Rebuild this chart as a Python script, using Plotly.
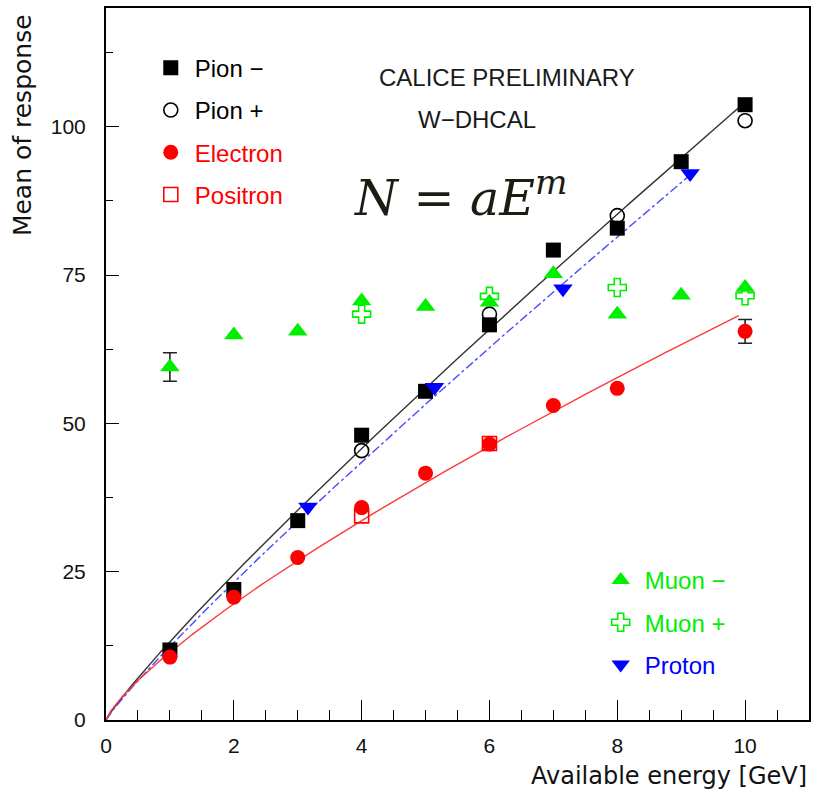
import numpy as np
import plotly.graph_objects as go

# ---- measured responses ----
energy = [1, 2, 3, 4, 5, 6, 7, 8, 9, 10]
pion_minus = [11.8, 22.0, 33.6, 48.0, 55.4, 66.6, 79.2, 82.9, 94.1, 103.7]

pion_plus_e = [4, 6, 8, 10]
pion_plus = [45.4, 68.4, 85.0, 101.0]

electron = [10.6, 20.7, 27.4, 35.8, 41.6, 46.5, 53.0, 55.9, None, 65.5]
electron_err = [0, 0, 0, 0, 0, 0, 0, 0, 0, 2.0]

positron_e = [4, 6]
positron = [34.4, 46.6]

muon_minus = [59.5, 64.9, 65.5, 70.6, 69.7, 70.4, 75.2, 68.4, 71.6, 72.9]
muon_minus_err = [2.4, 0, 0, 0, 0, 0, 0, 0, 0, 0]

muon_plus_e = [4, 6, 8, 10]
muon_plus = [68.4, 71.4, 72.9, 71.5]

proton_e = [3.16, 5.14, 7.15, 9.14]
proton = [35.9, 56.1, 72.7, 92.1]

# ---- power-law fits N = a * E^m : (a, m, upper energy) ----
fit_pion = (13.2, 0.897, 9.9)
fit_electron = (11.4, 0.78, 9.9)
fit_proton = (12.4, 0.905, 9.1)

GREEN = "#00ee00"
RED = "#ff0000"
BLUE = "#0000ff"
TXT = "Liberation Sans"


def fit_curve(a, m, emax):
    e = np.linspace(0.0, emax, 300)
    return e, a * e ** m


def err_points(x, y, err):
    xs = [xi for xi, ei in zip(x, err) if ei > 0]
    ys = [yi for yi, ei in zip(y, err) if ei > 0]
    es = [ei for ei in err if ei > 0]
    return xs, ys, es


fig = go.Figure()

# fit curves
for (a, m, emax), col, dash in [
    (fit_pion, "#333333", "solid"),
    (fit_proton, "#4a4aff", "dashdot"),
    (fit_electron, "#ff3838", "solid"),
]:
    ex, ey = fit_curve(a, m, emax)
    fig.add_trace(go.Scatter(x=ex, y=ey, mode="lines", showlegend=False,
                             line=dict(color=col, width=1.4, dash=dash),
                             hoverinfo="skip"))

# error bars (drawn under the markers)
for x, y, err in [(energy, muon_minus, muon_minus_err), (energy, electron, electron_err)]:
    xs, ys, es = err_points(x, y, err)
    fig.add_trace(go.Scatter(x=xs, y=ys, mode="markers", showlegend=False,
                             marker=dict(size=1, color="rgba(0,0,0,0)"),
                             error_y=dict(type="data", array=es, color="#222222",
                                          thickness=1.6, width=7)))

legend_items = [
    # (x, y, name, symbol, size, color, legend, rank)
    (pion_plus_e, pion_plus, "Pion +", "circle-open", 14, "#000000", "legend", 2),
    (energy, pion_minus, "Pion \u2212", "square", 15, "#000000", "legend", 1),
    (positron_e, positron, f'<span style="color:{RED}">Positron</span>', "square-open", 14, RED, "legend", 4),
    (energy, electron, f'<span style="color:{RED}">Electron</span>', "circle", 15, RED, "legend", 3),
    (muon_plus_e, muon_plus, f'<span style="color:{GREEN}">Muon +</span>', "cross-open", 15, GREEN, "legend2", 6),
    (energy, muon_minus, f'<span style="color:{GREEN}">Muon \u2212</span>', "triangle-up", 17, GREEN, "legend2", 5),
    (proton_e, proton, f'<span style="color:{BLUE}">Proton</span>', "triangle-down", 17, BLUE, "legend2", 7),
]
for x, y, name, sym, size, col, leg, rank in legend_items:
    fig.add_trace(go.Scatter(
        x=x, y=y, mode="markers", name=name, legend=leg, legendrank=rank,
        legendgroup=f"g{rank}",
        marker=dict(symbol=sym, size=size, color=col,
                    line=dict(color=col, width=1.6 if "open" in sym else 0)),
    ))

axis_common = dict(
    showline=True, linecolor="#000000", linewidth=2, mirror=True,
    ticks="inside", tickcolor="#000000", tickwidth=1.3,
    showgrid=False, zeroline=False,
    tickfont=dict(family=TXT, size=21, color="#111111"),
)
fig.update_xaxes(range=[0, 11], tickvals=[0, 2, 4, 6, 8, 10], ticklen=20,
                 minor=dict(dtick=0.5, ticklen=10, ticks="inside", tickcolor="#000000", tickwidth=1.2),
                 ticklabelstandoff=6, **axis_common)
fig.update_yaxes(range=[0, 120], tickvals=[0, 25, 50, 75, 100], ticklen=13,
                 minor=dict(dtick=12.5, ticklen=7, ticks="inside", tickcolor="#000000", tickwidth=1.2),
                 ticklabelstandoff=14, **axis_common)

legend_common = dict(
    font=dict(family=TXT, size=24, color="#000000"),
    bgcolor="rgba(0,0,0,0)", borderwidth=0, itemwidth=38,
    tracegroupgap=8, traceorder="grouped", itemsizing="trace",
)
fig.update_layout(
    width=815, height=791,
    margin=dict(l=106, r=4, t=8, b=71),
    paper_bgcolor="#ffffff", plot_bgcolor="#ffffff",
    legend=dict(x=0.058, y=0.947, xanchor="left", yanchor="top", **legend_common),
    legend2=dict(x=0.698, y=0.2275, xanchor="left", yanchor="top", **legend_common),
    annotations=[
        dict(text="CALICE PRELIMINARY", x=0.570, y=0.903, xref="paper", yref="paper",
             xanchor="center", yanchor="middle",
             showarrow=False, font=dict(family=TXT, size=24, color="#1a1a1a")),
        dict(text="W\u2212DHCAL", x=0.528, y=0.843, xref="paper", yref="paper",
             xanchor="center", yanchor="middle",
             showarrow=False, font=dict(family=TXT, size=24, color="#1a1a1a")),
        dict(text="<i>N</i> = <i>aE</i><sup><i>m</i></sup>", x=0.505, y=0.738,
             xref="paper", yref="paper", xanchor="center", yanchor="middle", showarrow=False,
             font=dict(family="DejaVu Serif", size=49, color="#1c1c12")),
        dict(text="Mean of response", x=-0.119, y=0.836, xref="paper", yref="paper",
             xanchor="center", yanchor="middle",
             textangle=-90, showarrow=False,
             font=dict(family="DejaVu Sans", size=25, color="#111111")),
        dict(text="Available energy [GeV]", x=1.0, y=-0.079, xref="paper", yref="paper",
             xanchor="right", yanchor="middle", showarrow=False,
             font=dict(family="DejaVu Sans", size=24, color="#111111")),
    ],
)

fig.write_html("out.html")
